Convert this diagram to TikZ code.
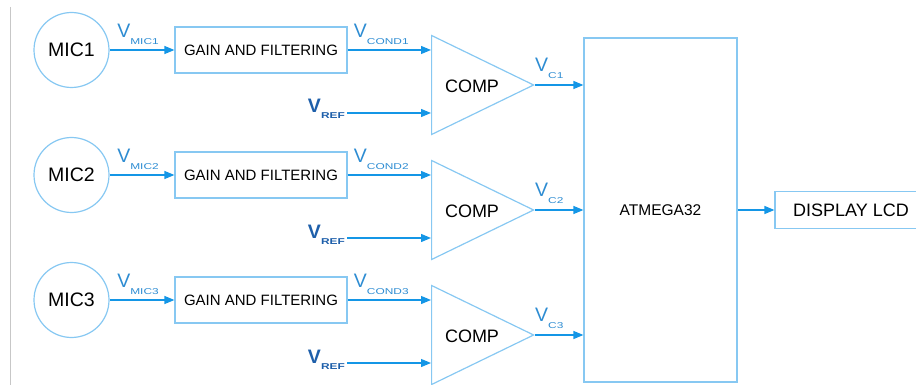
\documentclass[tikz,border=0pt]{standalone}
\usepackage{fontspec}
\setmainfont{Liberation Sans}
\usetikzlibrary{shapes.geometric,arrows.meta}
\definecolor{boxblue}{RGB}{135,200,242}
\definecolor{wireblue}{RGB}{20,150,230}
\definecolor{labblue}{RGB}{45,140,210}
\definecolor{refblue}{RGB}{30,95,170}
% signal names with a lowered, widened subscript
\newcommand\subtxt[1]{\scalebox{1.4}[1]{\fontsize{8.5}{8.5}\selectfont #1}}
\newcommand\vsig[1]{{\fontsize{19.5}{19.5}\selectfont V}\raisebox{-7pt}{\subtxt{#1}}}
\newcommand\vrefsig{{\fontsize{19.5}{19.5}\selectfont\bfseries V}\raisebox{-6pt}{\subtxt{\bfseries REF}}}

\tikzset{
  blk/.style={draw=boxblue, line width=1.2pt, inner sep=0pt},
  wire/.style={draw=wireblue, line width=1.2pt, -{Triangle[length=10pt,width=8pt]}},
  sig/.style={text=labblue, inner sep=0pt, above},
  refsig/.style={text=refblue, inner xsep=2pt, inner ysep=0pt},
}

\begin{document}
\begin{tikzpicture}[x=1pt,y=-1pt]
      \useasboundingbox (0,0) rectangle (916,385);
      \draw[black!22, line width=0.8pt] (10,7) -- (10,385);
      \node[blk, minimum width=153pt, minimum height=344pt,
	font=\fontsize{15.5}{15.5}\selectfont] (mcu) at (660.5,210) {ATMEGA32};
      \node[blk, minimum width=152pt, minimum height=37pt,
	font=\fontsize{18}{18}\selectfont] (lcd) at (851,210) {DISPLAY LCD};
      \draw[wire] (mcu) -- (lcd);
      \foreach \i in {1,2,3} {
	\pgfmathsetmacro\y{50+125*(\i-1)}
	\node[blk, circle, minimum size=75pt,
	  font=\fontsize{19.5}{19.5}\selectfont] (m\i) at (71.5,\y) {MIC\i};
	\node[blk, minimum width=172pt, minimum height=46pt,
	  font=\fontsize{15}{15}\selectfont] (g\i) at (261,\y) {GAIN AND FILTERING};
	\node[blk, isosceles triangle, isosceles triangle stretches,
	  minimum width=99pt, minimum height=102pt, anchor=west] (c\i) at (431,\y+35) {};
	\node[font=\fontsize{18}{18}\selectfont] (t\i) at (472,\y+36) {COMP};
	\node[refsig, anchor=base east] (r\i) at (347,\y+63) {\vrefsig};
	\draw[wire] (m\i) -- node[sig, xshift=-4pt, yshift=5pt] {\vsig{MIC\i}} (g\i);
	\draw[wire] (g\i) -- node[sig, xshift=-8pt, yshift=5pt] {\vsig{COND\i}} (c\i.west |- g\i);
	\draw[wire] (r\i.base east) -- (c\i.west |- r\i.base east);
	\draw[wire] (c\i.apex) -- node[sig, xshift=-10pt, yshift=6pt] {\vsig{C\i}} (c\i.apex -| mcu.west);
      };
    \end{tikzpicture}
\end{document}
